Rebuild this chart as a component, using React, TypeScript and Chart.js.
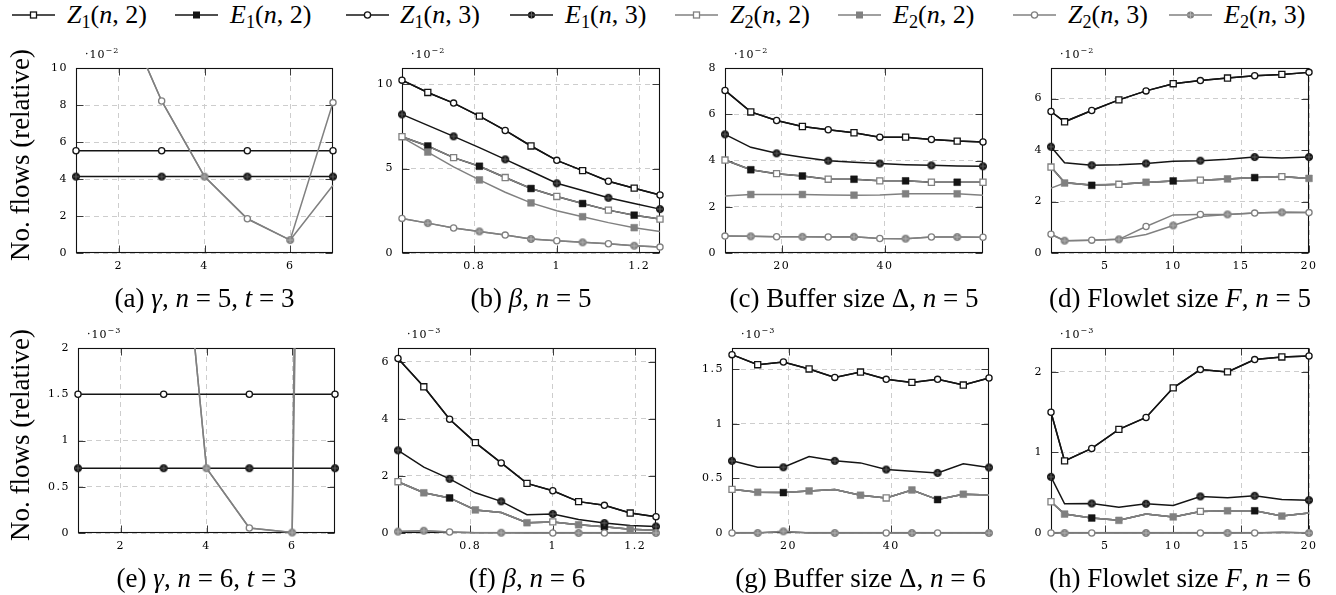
import React, { useEffect, useRef } from "react";
import { Chart, registerables } from "chart.js";

Chart.register(...registerables);

const BLACK = "#141414";
const GREY = "#808080";

// ---------- x values ----------
const xGamma = [1, 2, 3, 4, 5, 6, 7];
const xBeta = [0.625, 0.6875, 0.75, 0.8125, 0.875, 0.9375, 1, 1.0625, 1.125, 1.1875, 1.25];
const xBuffer = [9, 14, 19, 24, 29, 34, 39, 44, 49, 54, 59];
const xFlowlet = [1, 2, 4, 6, 8, 10, 12, 14, 16, 18, 20];

// ---------- tick labels ----------
const ticksGammaX = [2, 4, 6];
const ticksBetaX = [0.8, 1, 1.2];
const ticksBufferX = [20, 40];
const ticksFlowletX = [5, 10, 15, 20];
const ticksAY = [0, 2, 4, 6, 8, 10];
const ticksBY = [0, 5, 10];
const ticksCY = [0, 2, 4, 6, 8];
const ticksDY = [0, 2, 4, 6];
const ticksEY = [0, 0.5, 1, 1.5, 2];
const ticksFY = [0, 2, 4, 6];
const ticksGY = [0, 0.5, 1, 1.5];
const ticksHY = [0, 1, 2];

// ---------- (a) gamma, n = 5, t = 3  (x 1e-2) ----------
const aZ1n3 = [5.53, 5.53, 5.53, 5.53, 5.53, 5.53, 5.53];
const aE1n3 = [4.13, 4.13, 4.13, 4.13, 4.13, 4.13, 4.13];
const aZ2n3 = [20, 13.5, 8.22, 4.13, 1.85, 0.7, 8.13];
const aE2n3 = [20, 13.5, 8.22, 4.13, 1.85, 0.7, 3.66];

// ---------- (b) beta, n = 5 (x 1e-2) ----------
const bZ1n2 = [10.24, 9.51, 8.88, 8.11, 7.26, 6.34, 5.49, 4.88, 4.25, 3.84, 3.44];
const bE1n2 = [6.89, 6.34, 5.65, 5.14, 4.47, 3.82, 3.35, 2.93, 2.54, 2.24, 2.01];
const bZ1n3 = [10.24, 9.51, 8.88, 8.11, 7.26, 6.34, 5.49, 4.88, 4.25, 3.84, 3.44];
const bE1n3 = [8.21, 7.56, 6.91, 6.24, 5.55, 4.84, 4.13, 3.7, 3.27, 2.93, 2.6];
const bZ2n2 = [6.89, 6.34, 5.65, 5.14, 4.47, 3.82, 3.35, 2.93, 2.54, 2.24, 2.01];
const bE2n2 = [6.85, 5.98, 5.1, 4.33, 3.6, 2.97, 2.5, 2.15, 1.8, 1.5, 1.28];
const bZ2n3 = [2.05, 1.77, 1.48, 1.28, 1.06, 0.83, 0.73, 0.63, 0.55, 0.43, 0.35];
const bE2n3 = [2.05, 1.77, 1.48, 1.28, 1.06, 0.83, 0.73, 0.63, 0.55, 0.43, 0.35];

// ---------- (c) buffer size, n = 5 (x 1e-2) ----------
const cZ1n2 = [7.03, 6.1, 5.73, 5.47, 5.33, 5.2, 5.01, 5.01, 4.91, 4.84, 4.8];
const cE1n2 = [4.02, 3.6, 3.43, 3.33, 3.19, 3.19, 3.12, 3.12, 3.06, 3.06, 3.06];
const cZ1n3 = [7.03, 6.1, 5.73, 5.47, 5.33, 5.2, 5.01, 5.01, 4.91, 4.84, 4.8];
const cE1n3 = [5.13, 4.57, 4.31, 4.14, 3.99, 3.92, 3.87, 3.82, 3.79, 3.76, 3.75];
const cZ2n2 = [4.02, 3.6, 3.43, 3.33, 3.19, 3.19, 3.12, 3.12, 3.06, 3.06, 3.06];
const cE2n2 = [2.47, 2.53, 2.53, 2.53, 2.51, 2.5, 2.51, 2.56, 2.56, 2.56, 2.5];
const cZ2n3 = [0.73, 0.72, 0.7, 0.7, 0.69, 0.7, 0.63, 0.62, 0.69, 0.69, 0.68];
const cE2n3 = [0.73, 0.72, 0.7, 0.7, 0.69, 0.7, 0.63, 0.62, 0.69, 0.69, 0.68];

// ---------- (d) flowlet size, n = 5 (x 1e-2) ----------
const dZ1n2 = [5.5, 5.1, 5.54, 5.95, 6.3, 6.58, 6.7, 6.8, 6.89, 6.94, 7.02];
const dE1n2 = [3.34, 2.74, 2.63, 2.67, 2.74, 2.8, 2.83, 2.88, 2.93, 2.97, 2.9];
const dZ1n3 = [5.5, 5.1, 5.54, 5.95, 6.3, 6.58, 6.7, 6.8, 6.89, 6.94, 7.02];
const dE1n3 = [4.13, 3.51, 3.41, 3.43, 3.48, 3.57, 3.59, 3.64, 3.73, 3.69, 3.73];
const dZ2n2 = [3.34, 2.74, 2.63, 2.67, 2.74, 2.8, 2.83, 2.88, 2.93, 2.97, 2.9];
const dE2n2 = [2.52, 2.72, 2.65, 2.67, 2.75, 2.8, 2.83, 2.88, 2.93, 2.96, 2.9];
const dZ2n3 = [0.73, 0.48, 0.5, 0.53, 1.03, 1.48, 1.5, 1.5, 1.55, 1.58, 1.57];
const dE2n3 = [0.73, 0.48, 0.5, 0.53, 0.72, 1.07, 1.42, 1.5, 1.55, 1.58, 1.57];

// ---------- (e) gamma, n = 6, t = 3 (x 1e-3) ----------
const eZ1n3 = [1.5, 1.5, 1.5, 1.5, 1.5, 1.5, 1.5];
const eE1n3 = [0.7, 0.7, 0.7, 0.7, 0.7, 0.7, 0.7];
const eZ2n3 = [20, 12, 5.5, 0.7, 0.054, 0.005, 45];
const eE2n3 = [20, 12, 5.5, 0.7, 0.054, 0.005, 30];

// ---------- (f) beta, n = 6 (x 1e-3) ----------
const fZ1n2 = [6.12, 5.13, 3.99, 3.17, 2.46, 1.74, 1.48, 1.1, 0.97, 0.7, 0.57];
const fE1n2 = [1.8, 1.41, 1.23, 0.81, 0.72, 0.36, 0.39, 0.29, 0.22, 0.13, 0.1];
const fZ1n3 = [6.12, 5.13, 3.99, 3.17, 2.46, 1.74, 1.48, 1.1, 0.97, 0.7, 0.57];
const fE1n3 = [2.9, 2.31, 1.9, 1.41, 1.11, 0.64, 0.67, 0.47, 0.35, 0.26, 0.23];
const fZ2n2 = [1.8, 1.41, 1.23, 0.81, 0.72, 0.36, 0.39, 0.29, 0.22, 0.13, 0.1];
const fE2n2 = [1.8, 1.41, 1.23, 0.81, 0.72, 0.36, 0.39, 0.29, 0.22, 0.13, 0.1];
const fZ2n3 = [0.05, 0.08, 0.035, 0.01, 0.01, 0.0, 0.0, 0.0, 0.0, 0.0, 0.0];
const fE2n3 = [0.05, 0.08, 0.035, 0.01, 0.01, 0.0, 0.0, 0.0, 0.0, 0.0, 0.0];

// ---------- (g) buffer size, n = 6 (x 1e-3) ----------
const gZ1n2 = [1.633, 1.541, 1.566, 1.502, 1.425, 1.474, 1.407, 1.379, 1.407, 1.355, 1.419];
const gE1n2 = [0.4, 0.373, 0.37, 0.385, 0.398, 0.346, 0.321, 0.394, 0.306, 0.355, 0.349];
const gZ1n3 = [1.633, 1.541, 1.566, 1.502, 1.425, 1.474, 1.407, 1.379, 1.407, 1.355, 1.419];
const gE1n3 = [0.661, 0.602, 0.602, 0.7, 0.661, 0.642, 0.581, 0.566, 0.55, 0.633, 0.6];
const gZ2n2 = [0.4, 0.373, 0.37, 0.385, 0.398, 0.346, 0.321, 0.394, 0.306, 0.355, 0.349];
const gE2n2 = [0.4, 0.373, 0.37, 0.385, 0.398, 0.346, 0.321, 0.394, 0.306, 0.355, 0.349];
const gZ2n3 = [0.0, 0.0, 0.015, 0.0, 0.0, 0.0, 0.0, 0.0, 0.0, 0.0, 0.0];
const gE2n3 = [0.0, 0.0, 0.015, 0.0, 0.0, 0.0, 0.0, 0.0, 0.0, 0.0, 0.0];

// ---------- (h) flowlet size, n = 6 (x 1e-3) ----------
const hZ1n2 = [1.5, 0.895, 1.05, 1.287, 1.435, 1.802, 2.029, 2.0, 2.153, 2.186, 2.198];
const hE1n2 = [0.388, 0.235, 0.186, 0.157, 0.235, 0.2, 0.268, 0.276, 0.276, 0.21, 0.247];
const hZ1n3 = [1.5, 0.895, 1.05, 1.287, 1.435, 1.802, 2.029, 2.0, 2.153, 2.186, 2.198];
const hE1n3 = [0.697, 0.363, 0.367, 0.32, 0.363, 0.342, 0.454, 0.437, 0.462, 0.416, 0.408];
const hZ2n2 = [0.388, 0.235, 0.186, 0.157, 0.235, 0.2, 0.268, 0.276, 0.276, 0.21, 0.247];
const hE2n2 = [0.388, 0.235, 0.186, 0.157, 0.235, 0.2, 0.268, 0.276, 0.276, 0.21, 0.247];
const hZ2n3 = [0.0, 0.0, 0.0, 0.0, 0.0, 0.0, 0.0, 0.0, 0.0, 0.01, 0.0];
const hE2n3 = [0.0, 0.0, 0.0, 0.0, 0.0, 0.0, 0.0, 0.0, 0.0, 0.01, 0.0];

// ---------- styles ----------
type Key = "Z1n2" | "E1n2" | "Z1n3" | "E1n3" | "Z2n2" | "E2n2" | "Z2n3" | "E2n3";
const KEYS: Key[] = ["Z1n2", "E1n2", "Z1n3", "E1n3", "Z2n2", "E2n2", "Z2n3", "E2n3"];
type Mk = "openSquare" | "filledSquare" | "openCircle" | "oplus";
const STYLE: Record<Key, { color: string; mk: Mk }> = {
  Z1n2: { color: BLACK, mk: "openSquare" },
  E1n2: { color: BLACK, mk: "filledSquare" },
  Z1n3: { color: BLACK, mk: "openCircle" },
  E1n3: { color: BLACK, mk: "oplus" },
  Z2n2: { color: GREY, mk: "openSquare" },
  E2n2: { color: GREY, mk: "filledSquare" },
  Z2n3: { color: GREY, mk: "openCircle" },
  E2n3: { color: GREY, mk: "oplus" },
};
const ODD_KEYS: Key[] = ["Z1n2", "E1n2", "E2n2", "E2n3"];

const oplusCache: Record<string, HTMLCanvasElement> = {};
function oplusImage(color: string): HTMLCanvasElement {
  if (oplusCache[color]) return oplusCache[color];
  const c = document.createElement("canvas");
  c.width = 10;
  c.height = 10;
  const g = c.getContext("2d")!;
  g.beginPath();
  g.arc(5, 5, 3.6, 0, Math.PI * 2);
  g.fillStyle = color;
  g.fill();
  g.lineWidth = 1;
  g.strokeStyle = color;
  g.stroke();
  g.beginPath();
  g.moveTo(5, 1.8);
  g.lineTo(5, 8.2);
  g.moveTo(1.8, 5);
  g.lineTo(8.2, 5);
  g.strokeStyle = color === BLACK ? "#6a6a6a" : "#b8b8b8";
  g.lineWidth = 0.9;
  g.stroke();
  oplusCache[color] = c;
  return c;
}

function markerOpts(key: Key) {
  const st = STYLE[key];
  switch (st.mk) {
    case "openSquare":
      return { pointStyle: "rect", r: 4.3, bg: "#ffffff", bw: 1.3 };
    case "filledSquare":
      return { pointStyle: "rect", r: 4.8, bg: st.color, bw: 0.5 };
    case "openCircle":
      return { pointStyle: "circle", r: 3.1, bg: "#ffffff", bw: 1.3 };
    default:
      return { pointStyle: oplusImage(st.color) as any, r: 3.5, bg: st.color, bw: 1 };
  }
}

interface Series { key: Key; data: number[] }
interface PanelDef {
  L: number; T: number; W: number; H: number;
  x: number[]; xMin: number; xMax: number; xTicks: number[];
  yMax: number; yTicks: number[];
  series: Series[];
  marks?: Partial<Record<Key, number[]>>;
  exp: string;
  caption: React.ReactNode;
}

const I = (s: string) => <i>{s}</i>;

const PANELS: PanelDef[] = [
  {
    L: 76, T: 68, W: 257, H: 185, x: xGamma, xMin: 1, xMax: 7, xTicks: ticksGammaX,
    yMax: 10, yTicks: ticksAY, exp: "\u22122",
    series: [
      { key: "Z1n3", data: aZ1n3 }, { key: "E1n3", data: aE1n3 },
      { key: "Z2n3", data: aZ2n3 }, { key: "E2n3", data: aE2n3 },
    ],
    caption: <>(a) {I("\u03b3")}, {I("n")} = 5, {I("t")} = 3</>,
  },
  {
    L: 402, T: 68, W: 258, H: 185, x: xBeta, xMin: 0.625, xMax: 1.25, xTicks: ticksBetaX,
    yMax: 10.96, yTicks: ticksBY, exp: "\u22122",
    series: [
      { key: "Z1n2", data: bZ1n2 }, { key: "E1n2", data: bE1n2 }, { key: "Z1n3", data: bZ1n3 }, { key: "E1n3", data: bE1n3 },
      { key: "Z2n2", data: bZ2n2 }, { key: "E2n2", data: bE2n2 }, { key: "Z2n3", data: bZ2n3 }, { key: "E2n3", data: bE2n3 },
    ],
    caption: <>(b) {I("\u03b2")}, {I("n")} = 5</>,
  },
  {
    L: 725, T: 68, W: 258, H: 185, x: xBuffer, xMin: 9, xMax: 59, xTicks: ticksBufferX,
    yMax: 8, yTicks: ticksCY, exp: "\u22122",
    series: [
      { key: "Z1n2", data: cZ1n2 }, { key: "E1n2", data: cE1n2 }, { key: "Z1n3", data: cZ1n3 }, { key: "E1n3", data: cE1n3 },
      { key: "Z2n2", data: cZ2n2 }, { key: "E2n2", data: cE2n2 }, { key: "Z2n3", data: cZ2n3 }, { key: "E2n3", data: cE2n3 },
    ],
    caption: <>(c) Buffer size {"\u0394"}, {I("n")} = 5</>,
  },
  {
    L: 1051, T: 68, W: 258, H: 185, x: xFlowlet, xMin: 1, xMax: 20, xTicks: ticksFlowletX,
    yMax: 7.19, yTicks: ticksDY, exp: "\u22122",
    series: [
      { key: "Z1n2", data: dZ1n2 }, { key: "E1n2", data: dE1n2 }, { key: "Z1n3", data: dZ1n3 }, { key: "E1n3", data: dE1n3 },
      { key: "Z2n2", data: dZ2n2 }, { key: "E2n2", data: dE2n2 }, { key: "Z2n3", data: dZ2n3 }, { key: "E2n3", data: dE2n3 },
    ],
    marks: { Z2n2: [0, 3, 6, 9], E2n2: [1, 4, 7, 10], E1n2: [2, 5, 8] },
    caption: <>(d) Flowlet size {I("F")}, {I("n")} = 5</>,
  },
  {
    L: 78, T: 348, W: 257, H: 185, x: xGamma, xMin: 1, xMax: 7, xTicks: ticksGammaX,
    yMax: 2, yTicks: ticksEY, exp: "\u22123",
    series: [
      { key: "Z1n3", data: eZ1n3 }, { key: "E1n3", data: eE1n3 },
      { key: "Z2n3", data: eZ2n3 }, { key: "E2n3", data: eE2n3 },
    ],
    caption: <>(e) {I("\u03b3")}, {I("n")} = 6, {I("t")} = 3</>,
  },
  {
    L: 398, T: 348, W: 258, H: 185, x: xBeta, xMin: 0.625, xMax: 1.25, xTicks: ticksBetaX,
    yMax: 6.49, yTicks: ticksFY, exp: "\u22123",
    series: [
      { key: "Z1n2", data: fZ1n2 }, { key: "E1n2", data: fE1n2 }, { key: "Z1n3", data: fZ1n3 }, { key: "E1n3", data: fE1n3 },
      { key: "Z2n2", data: fZ2n2 }, { key: "E2n2", data: fE2n2 }, { key: "Z2n3", data: fZ2n3 }, { key: "E2n3", data: fE2n3 },
    ],
    marks: { Z2n2: [0, 6], E1n2: [2, 8], E2n2: [1, 3, 5, 7, 9], Z2n3: [2, 6, 8], E2n3: [0, 1, 4, 7, 10] },
    caption: <>(f) {I("\u03b2")}, {I("n")} = 6</>,
  },
  {
    L: 732, T: 348, W: 257, H: 185, x: xBuffer, xMin: 9, xMax: 59, xTicks: ticksBufferX,
    yMax: 1.694, yTicks: ticksGY, exp: "\u22123",
    series: [
      { key: "Z1n2", data: gZ1n2 }, { key: "E1n2", data: gE1n2 }, { key: "Z1n3", data: gZ1n3 }, { key: "E1n3", data: gE1n3 },
      { key: "Z2n2", data: gZ2n2 }, { key: "E2n2", data: gE2n2 }, { key: "Z2n3", data: gZ2n3 }, { key: "E2n3", data: gE2n3 },
    ],
    marks: { Z2n2: [0, 6], E1n2: [2, 8], E2n2: [1, 3, 5, 7, 9], Z2n3: [0, 6, 8], E2n3: [1, 2, 4, 7, 10] },
    caption: <>(g) Buffer size {"\u0394"}, {I("n")} = 6</>,
  },
  {
    L: 1051, T: 348, W: 258, H: 185, x: xFlowlet, xMin: 1, xMax: 20, xTicks: ticksFlowletX,
    yMax: 2.297, yTicks: ticksHY, exp: "\u22123",
    series: [
      { key: "Z1n2", data: hZ1n2 }, { key: "E1n2", data: hE1n2 }, { key: "Z1n3", data: hZ1n3 }, { key: "E1n3", data: hE1n3 },
      { key: "Z2n2", data: hZ2n2 }, { key: "E2n2", data: hE2n2 }, { key: "Z2n3", data: hZ2n3 }, { key: "E2n3", data: hE2n3 },
    ],
    marks: { Z2n2: [0, 6], E1n2: [2, 8], E2n2: [1, 3, 5, 7, 9], Z2n3: [0, 2, 6, 8], E2n3: [1, 4, 7, 10] },
    caption: <>(h) Flowlet size {I("F")}, {I("n")} = 6</>,
  },
];

function defaultMarks(n: number, key: Key): number[] {
  const odd = ODD_KEYS.includes(key);
  const out: number[] = [];
  for (let i = 0; i < n; i++) if (i % 2 === (odd ? 1 : 0)) out.push(i);
  return out;
}

const PAD_L = 60, PAD_T = 30, PAD_R = 20, PAD_B = 30;
const TICK_FONT = { family: '"DejaVu Serif", serif', size: 11 };
const fmt = (v: any) => String(Math.round(Number(v) * 1000) / 1000);

const framePlugin = {
  id: "pgfFrame",
  beforeDraw(chart: any) {
    (chart.ctx as any).letterSpacing = "1.5px";
  },
  beforeDatasetsDraw(chart: any) {
    const { ctx, chartArea: a, scales } = chart;
    ctx.save();
    ctx.setLineDash([]);
    const left = Math.round(a.left) + 0.5, right = Math.round(a.right) - 0.5;
    const top = Math.round(a.top) + 0.5, bottom = Math.round(a.bottom) - 0.5;
    ctx.strokeStyle = "#3c3c3c";
    ctx.lineWidth = 1;
    ctx.beginPath();
    const tl = 7;
    scales.x.ticks.forEach((t: any) => {
      const px = Math.round(scales.x.getPixelForValue(t.value)) + 0.5;
      ctx.moveTo(px, bottom); ctx.lineTo(px, bottom - tl);
      ctx.moveTo(px, top); ctx.lineTo(px, top + tl);
    });
    scales.y.ticks.forEach((t: any) => {
      const py = Math.round(scales.y.getPixelForValue(t.value)) + 0.5;
      ctx.moveTo(left, py); ctx.lineTo(left + tl, py);
      ctx.moveTo(right, py); ctx.lineTo(right - tl, py);
    });
    ctx.stroke();
    ctx.strokeStyle = "#111111";
    ctx.lineWidth = 1.1;
    ctx.strokeRect(left, top, right - left, bottom - top);
    ctx.restore();
  },
};

function Panel({ def }: { def: PanelDef }) {
  const ref = useRef<HTMLCanvasElement>(null);
  useEffect(() => {
    const canvas = ref.current!;
    const datasets: any[] = [];
    def.series.forEach((s) => {
      const st = STYLE[s.key];
      const idx = KEYS.indexOf(s.key);
      const pts = def.x.map((x, i) => ({ x, y: s.data[i] }));
      datasets.push({
        data: pts,
        borderColor: st.color,
        borderWidth: 1.5,
        pointRadius: 0,
        fill: false,
        tension: 0,
        order: 100 - idx,
        clip: { left: 8, right: 8, top: 0, bottom: 8 },
      });
      const marks = (def.marks && def.marks[s.key]) || defaultMarks(def.x.length, s.key);
      const mo = markerOpts(s.key);
      datasets.push({
        data: pts,
        showLine: false,
        order: 50 - idx,
        pointStyle: mo.pointStyle,
        pointRadius: (c: any) => (marks.includes(c.dataIndex) ? mo.r : 0),
        pointHoverRadius: 0,
        pointBackgroundColor: mo.bg,
        pointBorderColor: st.color,
        pointBorderWidth: mo.bw,
        clip: false,
      });
    });
    const chart = new Chart(canvas, {
      type: "line",
      data: { datasets },
      options: {
        animation: false,
        responsive: false,
        devicePixelRatio: 1,
        events: [],
        layout: { padding: { left: 0, top: PAD_T, right: PAD_R, bottom: 0 } },
        plugins: { legend: { display: false }, tooltip: { enabled: false } },
        scales: {
          x: {
            type: "linear",
            min: def.xMin,
            max: def.xMax,
            afterBuildTicks: (ax: any) => { ax.ticks = def.xTicks.map((v) => ({ value: v })); },
            afterFit: (ax: any) => { ax.height = PAD_B; },
            ticks: { font: TICK_FONT, color: "#000", padding: 7, autoSkip: false, maxRotation: 0, callback: fmt, includeBounds: false },
            grid: { color: "#cdcdcd", lineWidth: 1, drawTicks: false },
            border: { display: false, dash: [5, 4] },
          },
          y: {
            type: "linear",
            min: 0,
            max: def.yMax,
            afterBuildTicks: (ax: any) => { ax.ticks = def.yTicks.map((v) => ({ value: v })); },
            afterFit: (ax: any) => { ax.width = PAD_L; },
            ticks: { font: TICK_FONT, color: "#000", padding: 8, autoSkip: false, callback: fmt, includeBounds: false },
            grid: { color: "#cdcdcd", lineWidth: 1, drawTicks: false },
            border: { display: false, dash: [5, 4] },
          },
        },
      } as any,
      plugins: [framePlugin as any],
    });
    return () => chart.destroy();
  }, [def]);
  const cw = def.W + PAD_L + PAD_R;
  const ch = def.H + PAD_T + PAD_B;
  return (
    <canvas
      ref={ref}
      width={cw}
      height={ch}
      style={{ position: "absolute", left: def.L - PAD_L, top: def.T - PAD_T, width: cw, height: ch }}
    />
  );
}

const SERIF = '"Liberation Serif", "Times New Roman", serif';

function LegendMarker({ k }: { k: Key }) {
  const st = STYLE[k];
  let m: React.ReactNode = null;
  if (st.mk === "openSquare") m = <rect x={18.5} y={4} width={6} height={6} fill="#fff" stroke={st.color} strokeWidth={1.3} />;
  else if (st.mk === "filledSquare") m = <rect x={18} y={3.5} width={7} height={7} fill={st.color} />;
  else if (st.mk === "openCircle") m = <circle cx={21.5} cy={7} r={3.1} fill="#fff" stroke={st.color} strokeWidth={1.3} />;
  else
    m = (
      <g>
        <circle cx={21.5} cy={7} r={3.6} fill={st.color} />
        <path d="M21.5 3.8 V10.2 M18.3 7 H24.7" stroke={st.color === BLACK ? "#6a6a6a" : "#b8b8b8"} strokeWidth={0.9} />
      </g>
    );
  return (
    <svg width={43} height={14} style={{ display: "block" }}>
      <line x1={0} y1={7} x2={43} y2={7} stroke={st.color} strokeWidth={1.5} />
      {m}
    </svg>
  );
}

const LEGEND: { key: Key; letter: string; sub: string; t: string; lineX: number; textX: number }[] = [
  { key: "Z1n2", letter: "Z", sub: "1", t: "2", lineX: 12, textX: 67 },
  { key: "E1n2", letter: "E", sub: "1", t: "2", lineX: 175, textX: 230 },
  { key: "Z1n3", letter: "Z", sub: "1", t: "3", lineX: 346, textX: 400 },
  { key: "E1n3", letter: "E", sub: "1", t: "3", lineX: 510, textX: 565 },
  { key: "Z2n2", letter: "Z", sub: "2", t: "2", lineX: 675, textX: 730 },
  { key: "E2n2", letter: "E", sub: "2", t: "2", lineX: 838, textX: 893 },
  { key: "Z2n3", letter: "Z", sub: "2", t: "3", lineX: 1013, textX: 1068 },
  { key: "E2n3", letter: "E", sub: "2", t: "3", lineX: 1169, textX: 1224 },
];

export default function App() {
  return (
    <div style={{ position: "absolute", left: 0, top: 0, width: 1336, height: 595, background: "#fff", overflow: "hidden" }}>
      {LEGEND.map((l) => (
        <React.Fragment key={l.key}>
          <div style={{ position: "absolute", left: l.lineX, top: 8 }}>
            <LegendMarker k={l.key} />
          </div>
          <div style={{ position: "absolute", left: l.textX, top: 0, fontFamily: SERIF, fontSize: 26, lineHeight: "30px", whiteSpace: "nowrap", color: "#000" }}>
            <i>{l.letter}</i>
            <span style={{ fontSize: "0.7em", position: "relative", top: "0.3em" }}>{l.sub}</span>(<i>n</i>, {l.t})
          </div>
        </React.Fragment>
      ))}
      {PANELS.map((p, i) => (
        <React.Fragment key={i}>
          <Panel def={p} />
          <div style={{ position: "absolute", left: p.L + 9, top: p.T - 20, fontFamily: '"DejaVu Serif", serif', fontSize: 11, lineHeight: "14px", letterSpacing: "1px", whiteSpace: "nowrap", color: "#000" }}>
            {"\u00b710"}
            <span style={{ fontSize: 8, position: "relative", top: -5 }}>{p.exp}</span>
          </div>
          <div style={{ position: "absolute", left: p.L + p.W / 2 - 250, width: 500, top: p.T + p.H + 29, textAlign: "center", fontFamily: SERIF, fontSize: 27, lineHeight: "32px", whiteSpace: "nowrap", color: "#000" }}>
            {p.caption}
          </div>
        </React.Fragment>
      ))}
      {[160, 440].map((cy, i) => (
        <div key={i} style={{ position: "absolute", left: 20, top: cy - 5, transform: "translate(-50%, -50%) rotate(-90deg)", fontFamily: SERIF, fontSize: 27, lineHeight: "30px", whiteSpace: "nowrap", color: "#000" }}>
          No. flows (relative)
        </div>
      ))}
    </div>
  );
}
